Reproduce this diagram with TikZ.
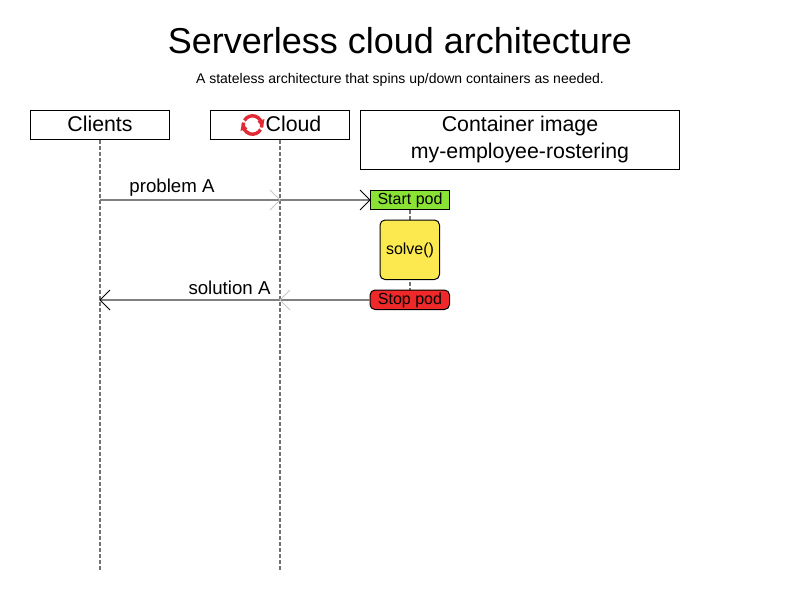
\documentclass[tikz,border=0pt]{standalone}
\usepackage{fontspec}
\setmainfont{Liberation Sans}
\usetikzlibrary{arrows.meta}
\definecolor{startg}{HTML}{8AE234}
\definecolor{stopr}{HTML}{EF2929}
\definecolor{solvey}{HTML}{FCE94F}
\definecolor{iconr}{HTML}{E02B36}
\newcommand{\fs}[1]{\fontsize{#1}{#1}\selectfont}
\tikzset{
  x=1pt,y=-1pt,
  every node/.style={inner sep=0pt,outer sep=0pt},
  actor/.style={draw=black,line width=1pt,fill=white,align=center},
  podbox/.style={draw=black,line width=1pt,align=center,minimum width=79.5pt,minimum height=19.5pt},
  lifeline/.style={draw=black!55,line width=1.2pt,dash pattern=on 3.5pt off 2.5pt},
  msg/.style={draw=black!50,line width=1.2pt},
  ghost/.style={draw=black!22,line width=1pt},
  lbl/.style={font=\fs{18.67},anchor=center},
}
\begin{document}
\begin{tikzpicture}
\useasboundingbox (0,0) rectangle (800,600);
\fill[white] (0,0) rectangle (800,600);
\node[font=\fs{36}] (title) at (400,41) {Serverless cloud architecture};
\node[font=\fs{14}] (subtitle) at (400,79.5) {A stateless architecture that spins up/down containers as needed.};

\coordinate (clientsend) at (100,570);
\coordinate (cloudend) at (280,570);
\coordinate (clientstop) at (100,140);
\coordinate (cloudtop) at (280,140);
\draw[lifeline] (clientstop) -- (clientsend);
\draw[lifeline] (cloudtop) -- (cloudend);

\node[actor,minimum width=139.5pt,minimum height=29.5pt,anchor=north west] (clients) at (30,110) {};
\node[font=\fs{21.33}] (clientst) at (100,124) {Clients};
\node[actor,minimum width=139.5pt,minimum height=29.5pt,anchor=north west] (cloud) at (210,110) {};
\node[font=\fs{21.33}] (cloudt) at (293.5,124) {Cloud};
\node[actor,minimum width=319.5pt,minimum height=59.5pt,anchor=north west] (image) at (360,110) {};
\node[font=\fs{21.33},align=center] (imaget) at (520,139.5) {Container image\\[5pt]my-employee-rostering};

\coordinate (podtop) at (410,210);
\coordinate (podbot) at (410,290);
\draw[lifeline] (podtop) -- (podbot);

\node[podbox,fill=startg,anchor=north west] (start) at (370,190) {};
\node[font=\fs{16}] (startt) at (410,200.5) {Start pod};
\node[draw=black,line width=1pt,fill=solvey,rounded corners=5pt,minimum width=59.5pt,minimum height=59.5pt,anchor=north west] (solve) at (380,220) {};
\node[font=\fs{16}] (solvet) at (410,250) {solve()};
\node[podbox,fill=stopr,rounded corners=5pt,anchor=north west] (stop) at (370,290) {};
\node[font=\fs{16}] (stopt) at (410,300.5) {Stop pod};

\coordinate (c1) at (100,200);
\coordinate (c2) at (100,300);
\coordinate (m1) at (280,200);
\coordinate (m2) at (280,300);
\coordinate (sw) at (370,200);
\coordinate (tw) at (370,300);
\draw[msg] (c1) -- (sw);
\draw[line width=1pt] (360,190) -- (sw) -- (360,210);
\draw[ghost] ([shift={(-10,-10)}]m1) -- (m1) -- ([shift={(-10,10)}]m1);
\draw[msg] (tw) -- (c2);
\draw[line width=1pt] (110,290) -- (c2) -- (110,310);
\draw[ghost] ([shift={(10,-10)}]m2) -- (m2) -- ([shift={(10,10)}]m2);

\node[lbl] (pa) at (172,188) {problem A};
\node[lbl] (sa) at (229.5,288) {solution A};

% reload icon
\begin{scope}[shift={(252.5,125)}]
  \draw[iconr,line width=3.4pt] (-9,-2.5) arc[start angle=195,end angle=30,radius=9.3];
  \draw[iconr,line width=3.4pt] (9,2.5) arc[start angle=15,end angle=-150,radius=9.3];
  \fill[iconr] (12,-6) -- (5,-3.5) -- (10.5,2) -- cycle;
  \fill[iconr] (-12,6) -- (-5,3.5) -- (-10.5,-2) -- cycle;
\end{scope}
\end{tikzpicture}
\end{document}
